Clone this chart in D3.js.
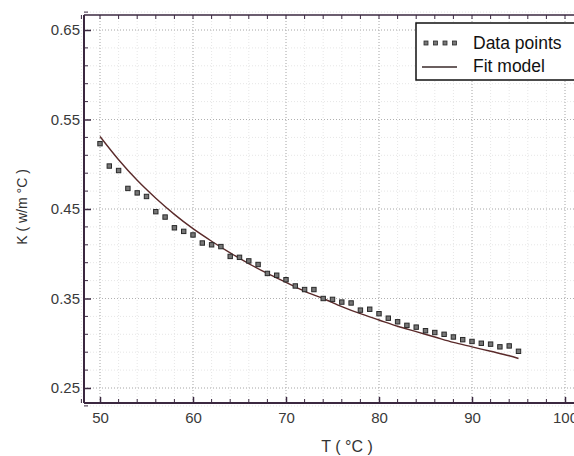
<!DOCTYPE html>
<html><head><meta charset="utf-8">
<script src="https://cdn.jsdelivr.net/npm/d3@7"></script>
<style>body{margin:0;background:#fff}svg{display:block;font-family:"Liberation Sans",Arial,sans-serif}</style>
</head><body><svg id="c" width="574" height="456"></svg>
<script>
const temps = [50,51,52,53,54,55,56,57,58,59,60,61,62,63,64,65,66,67,68,69,70,71,72,73,74,75,76,77,78,79,80,81,82,83,84,85,86,87,88,89,90,91,92,93,94,95];
const kValues = [0.523,0.498,0.493,0.473,0.468,0.464,0.447,0.441,0.429,0.425,0.421,0.412,0.410,0.408,0.397,0.396,0.392,0.388,0.378,0.376,0.371,0.364,0.360,0.360,0.350,0.349,0.346,0.345,0.337,0.338,0.333,0.328,0.324,0.320,0.318,0.314,0.312,0.310,0.307,0.304,0.302,0.300,0.299,0.296,0.297,0.291];
const fitT = [50,52,54,56,58,60,62,64,66,68,70,72,74,76,78,80,82,84,86,88,90,92,94,95];
const fitK = [0.531,0.505,0.482,0.462,0.444,0.428,0.414,0.401,0.389,0.378,0.368,0.358,0.350,0.341,0.333,0.326,0.319,0.313,0.307,0.301,0.296,0.291,0.286,0.283];
const xTicks = [50,60,70,80,90,100];
const yTicks = [0.25,0.35,0.45,0.55,0.65];
const legendLabels = ["Data points","Fit model"];
const xTitle = "T ( °C )";
const yTitle = "K ( w/m °C )";

const svg = d3.select("#c");
const L = 84, R = 580, T = 15, B = 403;
const x = d3.scaleLinear().domain([50,100]).range([100,565]);
const y = d3.scaleLinear().domain([0.25,0.65]).range([388,30]);
const axisCol = "#3b2840";

// grid
const g = svg.append("g");
const xMinor = d3.range(48,102,2), yMinor = d3.range(0.23,0.68,0.02);
g.selectAll(".gxm").data(xMinor).join("line").attr("x1",d=>x(d)).attr("x2",d=>x(d)).attr("y1",T).attr("y2",B)
 .attr("stroke","#e6e6e6").attr("stroke-width",1).attr("stroke-dasharray","1,2");
g.selectAll(".gym").data(yMinor).join("line").attr("y1",d=>y(d)).attr("y2",d=>y(d)).attr("x1",L).attr("x2",R)
 .attr("stroke","#e6e6e6").attr("stroke-width",1).attr("stroke-dasharray","1,2");
g.selectAll(".gx").data(xTicks).join("line").attr("x1",d=>x(d)).attr("x2",d=>x(d)).attr("y1",T).attr("y2",B)
 .attr("stroke","#b0b0b0").attr("stroke-width",1).attr("stroke-dasharray","1,2");
g.selectAll(".gy").data(yTicks).join("line").attr("y1",d=>y(d)).attr("y2",d=>y(d)).attr("x1",L).attr("x2",R)
 .attr("stroke","#b0b0b0").attr("stroke-width",1).attr("stroke-dasharray","1,2");

// axes
const xAx = svg.append("g").attr("transform",`translate(0,${B})`)
  .call(d3.axisBottom(x).tickValues(xTicks).tickFormat(d3.format("d")).tickSize(-6).tickPadding(12));
const yAx = svg.append("g").attr("transform",`translate(${L},0)`)
  .call(d3.axisLeft(y).tickValues(yTicks).tickFormat(d3.format(".2f")).tickSize(-7).tickPadding(4));
[xAx,yAx].forEach(a=>{
  a.select(".domain").remove();
  a.selectAll("line").attr("stroke",axisCol).attr("stroke-width",1.5);
  a.selectAll("text").attr("fill","#3a3a3a").attr("font-size",15).attr("font-family","'Liberation Sans',Arial,sans-serif");
});
xAx.selectAll("text").attr("dy","0.55em");
// minor ticks
const mx = svg.append("g");
mx.selectAll(".mb").data(xMinor.filter(d=>d%10!==0)).join("line").attr("x1",d=>x(d)).attr("x2",d=>x(d)).attr("y1",B).attr("y2",B-4).attr("stroke",axisCol);
mx.selectAll(".mt").data(d3.range(48,102,2)).join("line").attr("x1",d=>x(d)).attr("x2",d=>x(d)).attr("y1",T).attr("y2",T+4).attr("stroke",axisCol);
mx.selectAll(".ml").data(yMinor.filter(d=>Math.abs(Math.round(d*100)%10-5)!==0)).join("line").attr("y1",d=>y(d)).attr("y2",d=>y(d)).attr("x1",L).attr("x2",L+4).attr("stroke",axisCol);
// frame lines
svg.append("line").attr("x1",L).attr("x2",L).attr("y1",T).attr("y2",B).attr("stroke",axisCol).attr("stroke-width",2);
svg.append("line").attr("x1",L).attr("x2",R).attr("y1",B).attr("y2",B).attr("stroke",axisCol).attr("stroke-width",2);
svg.append("line").attr("x1",L).attr("x2",R).attr("y1",T).attr("y2",T).attr("stroke",axisCol).attr("stroke-width",1.5);

// fit line
svg.append("path").datum(fitT.map((t,i)=>[t,fitK[i]]))
  .attr("d",d3.line().x(d=>x(d[0])).y(d=>y(d[1])).curve(d3.curveMonotoneX))
  .attr("fill","none").attr("stroke","#5a2a2a").attr("stroke-width",1.4);

// points
const pts = temps.map((t,i)=>[t,kValues[i]]);
svg.selectAll(".pt").data(pts).join("rect")
  .attr("x",d=>x(d[0])-2.2).attr("y",d=>y(d[1])-2.2).attr("width",4.4).attr("height",4.4)
  .attr("fill","#777").attr("stroke","#2a2a2a").attr("stroke-width",1);

// legend
const lg = svg.append("g");
lg.append("rect").attr("x",416).attr("y",23).attr("width",170).attr("height",57).attr("fill","#fff").attr("stroke","#111").attr("stroke-width",1.5);
lg.selectAll(".lm").data(d3.range(4)).join("rect").attr("x",d=>424+d*9.5).attr("y",41).attr("width",4).attr("height",4)
  .attr("fill","#777").attr("stroke","#2a2a2a").attr("stroke-width",0.8);
lg.append("line").attr("x1",422).attr("x2",457).attr("y1",67).attr("y2",67).attr("stroke","#3a2a2a").attr("stroke-width",1.4);
lg.selectAll(".lt").data(legendLabels).join("text").attr("x",473).attr("y",(d,i)=>49+i*23)
  .attr("font-size",17.5).attr("fill","#111").text(d=>d);

// titles
svg.append("text").attr("x",347).attr("y",452).attr("text-anchor","middle").attr("font-size",16).attr("fill","#333").text(xTitle);
svg.append("text").attr("transform","translate(27,207) rotate(-90)").attr("text-anchor","middle").attr("font-size",14).attr("fill","#333").text(yTitle);
</script></body></html>
